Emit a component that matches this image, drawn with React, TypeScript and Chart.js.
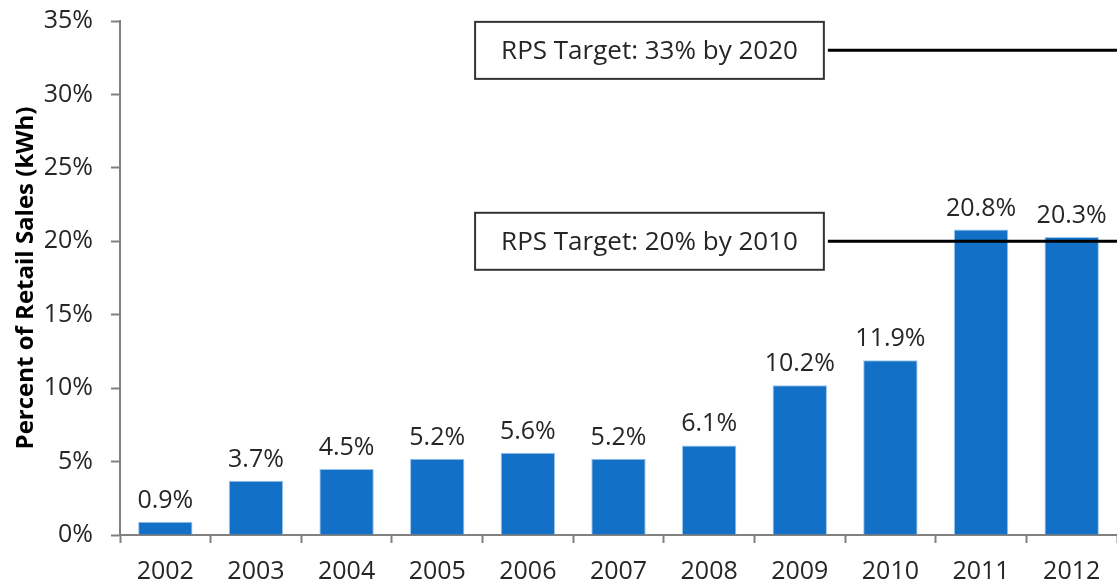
import React, { useEffect, useRef } from "react";
import { Chart, registerables } from "chart.js";

Chart.register(...registerables);

const years = ["2002", "2003", "2004", "2005", "2006", "2007", "2008", "2009", "2010", "2011", "2012"];
const shares = [0.9, 3.7, 4.5, 5.2, 5.6, 5.2, 6.1, 10.2, 11.9, 20.8, 20.3];
const targetValues = [33, 20];
const targetLabels = ["RPS Target: 33% by 2020", "RPS Target: 20% by 2010"];
const targetLineStart = 7.31; // category index where the target lines begin
const yTitle = "Percent of Retail Sales (kWh)";

const FONT = "'Open Sans', Lato, sans-serif";

const overlayPlugin = {
  id: "overlay",
  afterDatasetsDraw(chart: any) {
    const ctx = chart.ctx;
    const xs = chart.scales.x;
    const ys = chart.scales.y;
    const area = chart.chartArea;
    ctx.save();
    // value labels
    const meta = chart.getDatasetMeta(0);
    ctx.font = `25px ${FONT}`;
    ctx.fillStyle = "#262626";
    ctx.textAlign = "center";
    ctx.textBaseline = "alphabetic";
    meta.data.forEach((bar: any, i: number) => {
      ctx.fillText(shares[i].toFixed(1) + "%", bar.x, bar.y - 14);
    });
    // target lines and boxes
    targetValues.forEach((t, i) => {
      const y = ys.getPixelForValue(t);
      const x0 = xs.getPixelForValue(targetLineStart);
      ctx.strokeStyle = "#000";
      ctx.lineWidth = 3;
      ctx.beginPath();
      ctx.moveTo(x0, y);
      ctx.lineTo(area.right, y);
      ctx.stroke();
      ctx.font = `26px ${FONT}`;
      const tw = ctx.measureText(targetLabels[i]).width;
      const bw = tw + 52;
      const bh = 57;
      const bx = x0 - 4 - bw;
      const by = y - bh / 2;
      ctx.fillStyle = "#fff";
      ctx.fillRect(bx, by, bw, bh);
      ctx.strokeStyle = "#333";
      ctx.lineWidth = 2;
      ctx.strokeRect(bx, by, bw, bh);
      ctx.fillStyle = "#262626";
      ctx.textAlign = "center";
      ctx.textBaseline = "middle";
      ctx.fillText(targetLabels[i], bx + bw / 2, y + 1);
    });
    ctx.restore();
  },
};

export default function App() {
  const ref = useRef<HTMLCanvasElement>(null);
  useEffect(() => {
    document.body.style.margin = "0";
    const chart = new Chart(ref.current!, {
      type: "bar",
      data: {
        labels: years,
        datasets: [
          {
            data: shares,
            backgroundColor: "#1270C6",
            borderColor: "#9CC3EA",
            borderWidth: 1,
            barPercentage: 0.6,
            categoryPercentage: 1,
          },
        ],
      },
      options: {
        animation: false,
        responsive: false,
        maintainAspectRatio: false,
        layout: { padding: { top: 21, right: 0, left: 0, bottom: 0 } },
        plugins: { legend: { display: false }, tooltip: { enabled: false } },
        scales: {
          x: {
            offset: true,
            grid: {
              display: true,
              drawOnChartArea: false,
              offset: true,
              tickLength: 8,
              tickColor: "#808080",
              tickWidth: 2,
            },
            border: { color: "#808080", width: 2 },
            ticks: { font: { family: FONT, size: 25 }, color: "#262626", padding: 14 },
            afterFit: (s: any) => {
              s.height = 51;
              s.paddingLeft = 0;
              s.paddingRight = 0;
            },
          },
          y: {
            min: 0,
            max: 35,
            ticks: {
              stepSize: 5,
              callback: (v: any) => v + "%",
              font: { family: FONT, size: 25 },
              color: "#262626",
              padding: 18,
            },
            grid: { drawOnChartArea: false, tickLength: 9, tickColor: "#808080", tickWidth: 2 },
            border: { color: "#808080", width: 2 },
            title: {
              display: true,
              text: yTitle,
              font: { family: FONT, size: 24, weight: "bold" },
              color: "#000",
              padding: { top: 12, bottom: 0 },
            },
            afterFit: (s: any) => {
              s.width = 120;
              s.paddingTop = 0;
              s.paddingBottom = 0;
            },
          },
        },
      },
      plugins: [overlayPlugin],
    });
    return () => chart.destroy();
  }, []);
  return <canvas ref={ref} width={1117} height={586} />;
}
